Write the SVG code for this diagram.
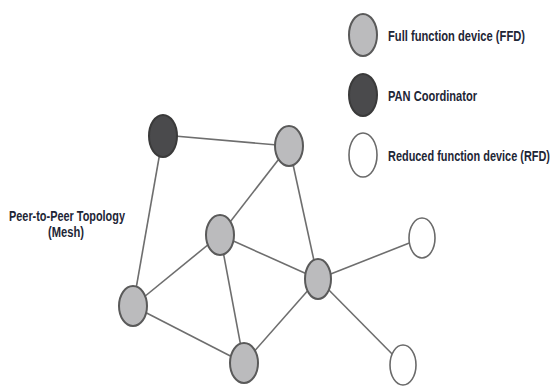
<svg xmlns="http://www.w3.org/2000/svg" width="555" height="387" viewBox="0 0 555 387">
<style>
.ffd{fill:#bbbbbd;stroke:#5a5a5a;stroke-width:2}
.pan{fill:#4a4a4c;stroke:#3a3a3a;stroke-width:2}
.rfd{fill:#ffffff;stroke:#6a6a6a;stroke-width:1.6}
.edge{stroke:#6e6e6e;stroke-width:1.6;fill:none}
.lbl{font-family:"Liberation Sans",Arial,sans-serif;font-size:14px;font-weight:bold;fill:#1e2636}
</style>
<rect width="555" height="387" fill="#ffffff"/>
<g id="connectors">
<line class="edge" x1="163" y1="135" x2="289" y2="146"/>
<line class="edge" x1="163" y1="135" x2="133" y2="306"/>
<line class="edge" x1="289" y1="146" x2="220" y2="235"/>
<line class="edge" x1="289" y1="146" x2="318" y2="279"/>
<line class="edge" x1="220" y1="235" x2="133" y2="306"/>
<line class="edge" x1="220" y1="235" x2="244" y2="363"/>
<line class="edge" x1="220" y1="235" x2="318" y2="279"/>
<line class="edge" x1="133" y1="306" x2="244" y2="363"/>
<line class="edge" x1="244" y1="363" x2="318" y2="279"/>
<line class="edge" x1="318" y1="279" x2="422" y2="238"/>
<line class="edge" x1="318" y1="279" x2="403" y2="365"/>
</g>
<g id="pan-coordinator"><ellipse class="pan" cx="163" cy="136" rx="14" ry="21"/></g>
<g id="ffd-top"><ellipse class="ffd" cx="289" cy="146" rx="14" ry="20"/></g>
<g id="ffd-middle"><ellipse class="ffd" cx="220" cy="235" rx="14" ry="20"/></g>
<g id="ffd-left"><ellipse class="ffd" cx="133" cy="306" rx="14" ry="20"/></g>
<g id="ffd-bottom"><ellipse class="ffd" cx="244" cy="363" rx="14" ry="20"/></g>
<g id="ffd-right"><ellipse class="ffd" cx="318" cy="279" rx="13" ry="20"/></g>
<g id="rfd-top"><ellipse class="rfd" cx="422" cy="238" rx="13" ry="20"/></g>
<g id="rfd-bottom"><ellipse class="rfd" cx="403" cy="365" rx="13" ry="20"/></g>
<g id="topology-label">
<text class="lbl" transform="translate(9,221) scale(0.78,1)" textLength="148.7" lengthAdjust="spacingAndGlyphs">Peer-to-Peer Topology</text>
<text class="lbl" transform="translate(48,237) scale(0.78,1)" textLength="46.2" lengthAdjust="spacingAndGlyphs">(Mesh)</text>
</g>
<g id="legend-ffd">
<ellipse class="ffd" cx="363" cy="35" rx="14" ry="21"/>
<text class="lbl" transform="translate(388,41) scale(0.78,1)" textLength="175.6" lengthAdjust="spacingAndGlyphs">Full function device (FFD)</text>
</g>
<g id="legend-pan">
<ellipse class="pan" cx="363" cy="95" rx="14" ry="21"/>
<text class="lbl" transform="translate(388,101) scale(0.78,1)" textLength="114.1" lengthAdjust="spacingAndGlyphs">PAN Coordinator</text>
</g>
<g id="legend-rfd">
<ellipse class="rfd" cx="363" cy="155" rx="14" ry="22"/>
<text class="lbl" transform="translate(388,161) scale(0.78,1)" textLength="207.7" lengthAdjust="spacingAndGlyphs">Reduced function device (RFD)</text>
</g>
</svg>
